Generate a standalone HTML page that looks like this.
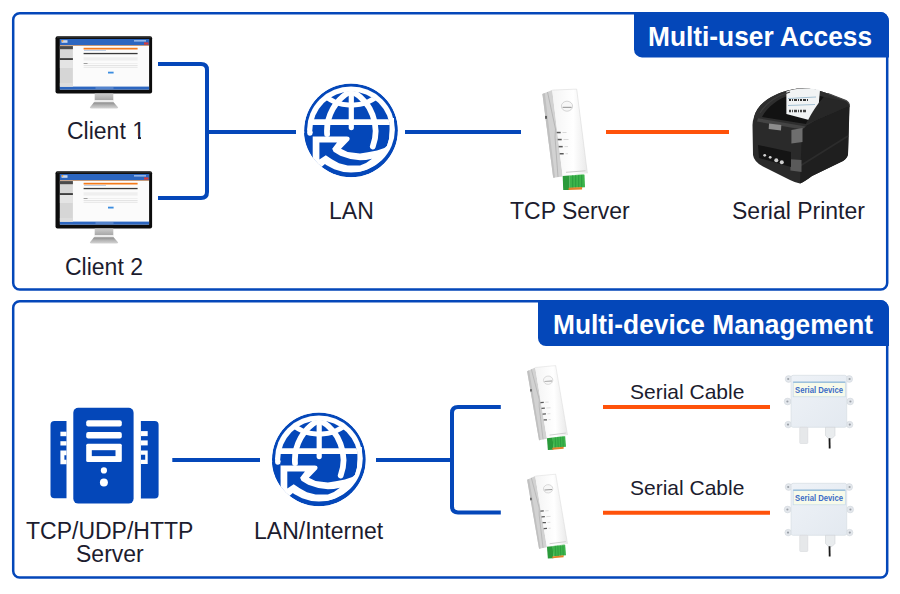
<!DOCTYPE html>
<html><head><meta charset="utf-8">
<style>
html,body{margin:0;padding:0;background:#fff;}
body{width:900px;height:594px;position:relative;overflow:hidden;font-family:"Liberation Sans",sans-serif;}
.t{position:absolute;white-space:nowrap;color:#1c1c2e;font-size:23px;line-height:1;}
.h{position:absolute;white-space:nowrap;color:#fff;font-weight:bold;font-size:27px;line-height:1;transform-origin:0 0;}
svg{position:absolute;left:0;top:0;}
</style></head><body>
<svg width="900" height="594" viewBox="0 0 900 594">
<defs>
  <clipPath id="gclip"><circle cx="351" cy="130.4" r="46.9"/></clipPath>
  <clipPath id="bclip"><circle cx="350.8" cy="130.4" r="39.5"/></clipPath>
  <linearGradient id="stand" x1="0" x2="0" y1="0" y2="1">
    <stop offset="0" stop-color="#cdcdcd"/><stop offset="1" stop-color="#a6a6a6"/>
  </linearGradient>
  <linearGradient id="base" x1="0" x2="0" y1="0" y2="1">
    <stop offset="0" stop-color="#8a8a8a"/><stop offset="0.5" stop-color="#b4b4b4"/><stop offset="1" stop-color="#d4d4d4"/>
  </linearGradient>

  <g id="globe" clip-path="url(#gclip)">
    <circle cx="351" cy="130.4" r="46.9" fill="#0447b9"/>
    <ellipse cx="351" cy="129.6" rx="43.9" ry="43" fill="#fff"/>
    <circle cx="351.2" cy="130.4" r="38.9" fill="#0447b9"/>
    <path d="M300,133 H313 V170 L330,180 H300 Z" fill="#0447b9"/>
    <g clip-path="url(#bclip)" stroke="#fff" fill="none">
      <path d="M351.3,80 V127.6" stroke-width="5.2" stroke-linecap="round"/>
      <path d="M300,122.1 H400" stroke-width="5.6"/>
      <path d="M372.8,146.5 A45,45 0 0 0 351.3,91 A45,45 0 0 0 327.1,134" stroke-width="5.8" stroke-linecap="round" stroke-linejoin="round"/>
      <circle cx="351.3" cy="62.2" r="43" stroke-width="5"/>
    </g>
    <circle cx="309.9" cy="133" r="2.65" fill="#fff"/>
    <path d="M312.7,136.4 L347,136.4 Q350.8,136.6 349.2,140.3 L341,148.8 L347.7,152.1 L360,153.5 L367.8,152.3 L377,150.5 L384.4,148.1 L387.2,145.8 L389,138.9 L389.8,125 L389.8,118 L394,118 L393.8,130 A43,43 0 0 1 360,171.7 L347.7,170.7 L337,168.3 L325.8,163.2 L322.1,166.6 L318,172 L300,165 L312.7,160 Z" fill="#fff"/>
    <path d="M319.4,142.4 L337,142.4 L332.2,148.8 L333.6,151.8 L340.3,155.8 L350.4,158.9 L360,160.2 L366,160 L372,158.8 L366,163 L360,165.6 L347.7,165.6 L339,163.2 L332.2,159.5 L325.8,155.2 L319.4,159.5 Z" fill="#0447b9"/>
  </g>

  <g id="monitor">
    <rect x="55.5" y="36.2" width="96.6" height="57.3" rx="2" fill="#0c0c0c"/>
    <rect x="57" y="37" width="94" height="1.2" fill="#2a2a2a"/>
    <rect x="59.9" y="39" width="89.2" height="50.6" fill="#fbfbfb"/>
    <rect x="59.9" y="39" width="89.2" height="6.1" fill="#2c66c0"/>
    <rect x="59.9" y="45.1" width="89.2" height="0.7" fill="#b87a4a"/>
    <rect x="61.5" y="40.2" width="6" height="2.6" fill="#c9d8ee"/>
    <circle cx="62.5" cy="40.8" r="0.9" fill="#f39a2a"/>
    <rect x="59.9" y="86.6" width="89.2" height="3" fill="#2c66c0"/>
    <rect x="95.5" y="87.6" width="18" height="0.8" fill="#8fb0e0"/>
    <rect x="59.9" y="45.8" width="13" height="40.8" fill="#d6d6d6"/>
    <rect x="59.9" y="46.1" width="13" height="3.1" fill="#4a4a4a"/>
    <rect x="59.9" y="58.2" width="13" height="1.7" fill="#2e2e2e"/>
    <rect x="59.9" y="60" width="13" height="8" fill="#e4e4e4"/>
    <rect x="59.9" y="83" width="13" height="3.6" fill="#ddd"/>
    <rect x="83.6" y="47.8" width="54" height="1.7" fill="#f47a1a"/>
    <rect x="84" y="50.2" width="22" height="0.6" fill="#9ab4d8"/>
    <rect x="83.6" y="52.9" width="54" height="1.3" fill="#3a3a3a"/>
    <rect x="83.6" y="57.2" width="54" height="3.4" fill="#efefef"/>
    <rect x="83.6" y="63" width="4" height="0.7" fill="#777"/>
    <rect x="88" y="63.1" width="49.6" height="0.4" fill="#ddd"/>
    <rect x="83.6" y="65" width="54" height="0.6" fill="#d5d5d5"/>
    <rect x="83.6" y="66.8" width="54" height="1.2" fill="#eaeaea"/>
    <rect x="108" y="71.7" width="5.6" height="1.8" fill="#3b8de0"/>
    <rect x="134" y="40.2" width="12" height="1.3" fill="#a9c6ef"/>
    <rect x="144" y="42.4" width="4.5" height="2.2" fill="#d83a3a"/>
    <path d="M94.7,93.5 H113.3 V100.2 H94.7 Z" fill="url(#stand)"/>
    <rect x="94.5" y="100" width="19" height="2.3" fill="#ececec"/>
    <path d="M94,102.2 H113.6 L118.2,107.4 Q118,108.4 116.5,108.4 H91.5 Q90,108.4 89.8,107.4 Z" fill="url(#base)"/>
  </g>

  <linearGradient id="devFront" x1="0" x2="1" y1="0" y2="0">
    <stop offset="0" stop-color="#f4f4f4"/><stop offset="0.6" stop-color="#ffffff"/><stop offset="1" stop-color="#e9e9e9"/>
  </linearGradient>
  <g id="dev">
    <path d="M0.4,5.1 L10.2,1.1 L20.7,87.5 L11.2,88.7 Z" fill="#d2d2d2"/>
    <path d="M0.4,5.1 L2.8,4.1 L13,88.5 L11.2,88.7 Z" fill="#c0c0c0"/>
    <path d="M5.5,3 L13.5,40 L13,48 L16,88" fill="none" stroke="#a3a3a3" stroke-width="0.6"/>
    <rect x="3.2" y="26.9" width="1.6" height="2.9" fill="#444"/>
    <path d="M10.2,1.1 L34.7,0.1 L45.4,84.3 L20.7,87.5 Z" fill="url(#devFront)"/>
    <path d="M10.2,1.1 L34.7,0.1 L45.4,84.3" fill="none" stroke="#d5d5d5" stroke-width="0.5"/>
    <ellipse cx="25" cy="17.2" rx="5.6" ry="5" fill="#f7f7f7" stroke="#c4c4c4" stroke-width="0.7"/>
    <rect x="20.6" y="17.8" width="9" height="1.1" fill="#9a9a9a"/>
    <rect x="14.7" y="42.8" width="4" height="1.5" fill="#5a5a5a"/>
    <rect x="15.7" y="49.8" width="4" height="1.5" fill="#5a5a5a"/>
    <rect x="16.7" y="56.9" width="4" height="1.5" fill="#5a5a5a"/>
    <rect x="17.7" y="64" width="4" height="1.5" fill="#5a5a5a"/>
    <path d="M20.5,43.5 h4 M21.5,50.5 h5 M22.5,57.6 h3.5 M23.5,64.7 h2.5" stroke="#cfcfcf" stroke-width="0.8"/>
    <path d="M24,83.3 L43.5,81.8" stroke="#c9c9c9" stroke-width="1"/>
    <path d="M20.7,86.9 L41.5,85.2 L42.5,85.7 L27.7,86.4 Z" fill="#56c462"/>
    <path d="M20.7,86.9 L27.7,86.4 L27.7,101 L21.2,101 Z" fill="#2a9a3a"/>
    <path d="M27.7,86.4 L42.5,85.7 L43,98.2 L27.7,99 Z" fill="#3cb44b"/>
    <path d="M30.7,86.3 V98.8 M33.7,86.1 V98.7 M36.7,86 V98.5 M39.7,85.9 V98.4" stroke="#23903a" stroke-width="0.7"/>
    <path d="M26.6,98.7 L40.1,98.1 L40.1,100.5 L26.6,101 Z" fill="#e0822a"/>
  </g>

  <g id="sdev">
    <linearGradient id="sdg" x1="0" x2="1" y1="0" y2="1"><stop offset="0" stop-color="#eef2f7"/><stop offset="1" stop-color="#e3e9f0"/></linearGradient>
    <g fill="#e3e7ec" stroke="#cfd4da" stroke-width="0.5">
      <circle cx="788.6" cy="379" r="3.4"/><circle cx="787.6" cy="401.5" r="3.4"/><circle cx="788.2" cy="424.6" r="3.3"/>
      <circle cx="849.2" cy="379" r="3.4"/><circle cx="850.2" cy="401.5" r="3.4"/><circle cx="849.6" cy="424.6" r="3.3"/>
    </g>
    <g fill="#9aa0a8">
      <circle cx="788.2" cy="379" r="1.1"/><circle cx="787.4" cy="401.5" r="1.1"/><circle cx="788" cy="424.6" r="1.1"/>
      <circle cx="849.6" cy="379" r="1.1"/><circle cx="850.4" cy="401.5" r="1.1"/><circle cx="849.8" cy="424.6" r="1.1"/>
    </g>
    <rect x="791.1" y="375.3" width="55.6" height="52" rx="2" fill="url(#sdg)" stroke="#d6dce3" stroke-width="0.7"/>
    <rect x="793.2" y="382" width="52.1" height="14.8" fill="#f7faea" stroke="#c5d9ea" stroke-width="0.7"/>
    <rect x="793.2" y="381.6" width="52.1" height="1.2" fill="#8cb6d8"/>
    <text x="795.1" y="392.9" font-family="Liberation Sans" font-size="9" font-weight="bold" fill="#3b6cc6" textLength="48" lengthAdjust="spacingAndGlyphs">Serial Device</text>
    <rect x="799.7" y="427.3" width="8.1" height="16.2" rx="0.8" fill="#e6e8ea" stroke="#d2d5d8" stroke-width="0.5"/>
    <path d="M825.5,427.3 H835 V435.5 L832,438.6 H828.5 L825.5,435.5 Z" fill="#e9ecee" stroke="#c9cdd1" stroke-width="0.5"/>
    <path d="M828.6,438.2 L830.4,438.2 L830.6,448.6 L828.8,448.6 Z" fill="#1a1a1a"/>
  </g>
</defs>

  <!-- panels -->
  <rect x="13.2" y="13.2" width="874" height="276.3" rx="6.5" fill="none" stroke="#0447b9" stroke-width="2.5"/>
  <rect x="13.2" y="301.2" width="874" height="276.3" rx="6.5" fill="none" stroke="#0447b9" stroke-width="2.5"/>
  <!-- tabs -->
  <path d="M634 12.1 H880 A9 9 0 0 1 889 21.1 V57.4 H642 A8 8 0 0 1 634 49.4 Z" fill="#0447b9"/>
  <path d="M538 300.1 H880 A9 9 0 0 1 889 309.1 V346 H546 A8 8 0 0 1 538 338 Z" fill="#0447b9"/>

  <!-- top connectors -->
  <path d="M158 64 H201 Q207 64 207 70 V192 Q207 198 201 198 H158" fill="none" stroke="#0447b9" stroke-width="4"/>
  <path d="M207 131.9 H296" fill="none" stroke="#0447b9" stroke-width="4"/>
  <path d="M405 131.9 H521" fill="none" stroke="#0447b9" stroke-width="4"/>
  <path d="M606 132 H729" fill="none" stroke="#ff520a" stroke-width="4"/>

  <!-- bottom connectors -->
  <path d="M172.3 460 H260" fill="none" stroke="#0447b9" stroke-width="4"/>
  <path d="M376 460 H452" fill="none" stroke="#0447b9" stroke-width="4"/>
  <path d="M500.8 407 H458 Q452 407 452 413 V506.4 Q452 512.4 458 512.4 H500.8" fill="none" stroke="#0447b9" stroke-width="4"/>
  <path d="M603 407 H770" fill="none" stroke="#ff520a" stroke-width="4"/>
  <path d="M603 512.8 H770" fill="none" stroke="#ff520a" stroke-width="4"/>

  <use href="#globe"/>
  <use href="#globe" transform="translate(-32.1,329)"/>
  <use href="#monitor"/>
  <use href="#monitor" transform="translate(0,135)"/>
  <use href="#dev" transform="translate(542,89)"/>
  <use href="#dev" transform="matrix(0.8372,-0.0425,0.0346,0.8299,526.62,367)"/>
  <use href="#dev" transform="matrix(0.8372,-0.0425,0.0346,0.8299,526.62,475.6)"/>
  <use href="#sdev"/>
  <use href="#sdev" transform="translate(0,108)"/>

  <!-- server icon -->
  <g fill="#0447b9">
    <rect x="73.3" y="407.8" width="60.3" height="95.8" rx="5"/>
    <path d="M54.5,421 H66.5 V498.3 H54.5 Q50.5,498.3 50.5,494.3 V425 Q50.5,421 54.5,421 Z"/>
    <path d="M140.9,421 H154.6 Q158.6,421 158.6,425 V494.4 Q158.6,498.4 154.6,498.4 H140.9 Z"/>
  </g>
  <g fill="#fff">
    <rect x="86.2" y="420.2" width="35.6" height="6.3" rx="2"/>
    <rect x="86.2" y="432" width="35.6" height="6.4" rx="2"/>
    <rect x="86.2" y="443.8" width="35.6" height="18.2" rx="1.5"/><rect x="91.8" y="450.2" width="23.7" height="5.9" fill="#0447b9"/>
    <circle cx="103.9" cy="470.4" r="3.1"/>
    <circle cx="103.9" cy="482.4" r="4"/>
    <rect x="60.4" y="431.7" width="6.1" height="4.5"/>
    <rect x="60.4" y="441.2" width="6.1" height="4.3"/>
    <path d="M60.4,450.6 H66.5 V464.2 H60.4 Z M64.4,455.2 V459.7 H66.5 V455.2 Z" fill-rule="evenodd"/>
    <rect x="140.9" y="431.1" width="6.8" height="5"/>
    <rect x="140.9" y="440.4" width="6.8" height="5"/>
    <path d="M140.9,450.5 H147.7 V463.9 H140.9 Z M140.9,454.7 V459.7 H145.2 V454.7 Z" fill-rule="evenodd"/>
  </g>

  <!-- printer -->
  <g id="printer">
    <path d="M754,117 C757,104 772,94 790,90 C803,87 816,89 828,93.5 L846,100.5 Q850,103 849.5,108 L848,154 Q847.5,158 843,161 L812,176 Q804,182 800,183.5 Q796,183 790,180 L763,166.5 Q754,162 753,155 L752.5,125 Q752.8,120 754,117 Z" fill="#2a2a2a"/>
    <path d="M802,128 L816,120 L849.3,105.5 L848,154 Q847.5,158 843,161 L812,176 Q804,182 800,183.5 Z" fill="#1f1f1f"/>
    <path d="M800,166 L848,136" stroke="#2c2c2c" stroke-width="1.5"/>
    <path d="M754,117 C757,104 772,94 790,90 C803,87 816,89 828,93.5 L846,100.5 Q850,103 849.3,105.5 L816,120 L802,128 L758,118.5 Z" fill="#2e2e2e"/>
    <path d="M762,117 C768,106 778,99 790,95 L812,94 L824,97 C818,104 812,112 806,124 Z" fill="#121212"/>
    <path d="M758,118.3 L806,126.4 L802,129.5 L757,121.5 Z" fill="#444"/>
    <path d="M786.4,91.6 C794,88.5 806,87.5 820,90 L818,112 L809,120 L786.4,114 Z" fill="#f1f3f4"/>
    <path d="M788,98.5 L816,97 M788,105.5 L815,104.5" stroke="#8fb3c9" stroke-width="0.8"/>
    <path d="M789,100 h2 M792,100 h1 M794,100 h3 M798,100 h1 M800,100 h2 M803,100 h3 M807,100 h1" stroke="#333" stroke-width="2.2"/>
    <path d="M789,111 h2 M792,111 h1 M794,111 h3 M798,111 h1 M800,111 h2 M803,111 h3" stroke="#444" stroke-width="2.4"/>
    <path d="M828,93.5 L846,100.5 Q849.5,102.5 849.4,107" fill="none" stroke="#4a4a4a" stroke-width="1.3"/>
    <path d="M806,124 C812,112 818,103 824,97 L846,101.5 Q849,103.5 849,106 L816,120 Z" fill="#272727"/>
    <path d="M760,113 C766,103 776,96 790,92" fill="none" stroke="#3c3c3c" stroke-width="1.2"/>
    <path d="M769,123.4 L781.3,125 L781,130.5 L768.7,129 Z" fill="#8c8c8c"/>
    <path d="M791.4,130 L802.5,128 L802.5,142 L791.4,143.5 Z" fill="#6e6e6e"/>
    <path d="M790.4,159.3 L801.5,160 L801.5,172 L790.4,170.4 Z" fill="#5a5a5a"/>
    <path d="M758,145 L791,152 L791,167 L759,158 Z" fill="#141414"/>
    <circle cx="764.7" cy="155.3" r="1.4" fill="#d0d0d0"/>
    <circle cx="770.2" cy="157.3" r="1.4" fill="#d0d0d0"/>
    <circle cx="776.3" cy="160.3" r="2" fill="#cfcfcf"/>
    <circle cx="781.8" cy="162.3" r="2" fill="#cfcfcf"/>
  </g>
</svg>

<div class="h" id="h1" style="left:648.4px;top:24px;transform:scaleX(0.974);">Multi-user Access</div>
<div class="h" id="h2" style="left:552.8px;top:312px;transform:scaleX(0.974);">Multi-device Management</div>

<div class="t" style="left:67px;top:120px;">Client 1</div>
<div style="position:absolute;left:132.5px;top:136px;width:5.2px;height:4px;background:#fff;"></div>
<div style="position:absolute;left:140.6px;top:136px;width:5px;height:4px;background:#fff;"></div>
<div class="t" style="left:65px;top:256px;">Client 2</div>
<div class="t" style="left:329px;top:200px;">LAN</div>
<div class="t" style="left:510px;top:200px;">TCP Server</div>
<div class="t" style="left:732px;top:200px;">Serial Printer</div>
<div class="t" style="left:26px;top:520px;">TCP/UDP/HTTP</div>
<div class="t" style="left:76px;top:543px;">Server</div>
<div class="t" style="left:254px;top:520px;">LAN/Internet</div>
<div class="t" style="left:630px;top:381px;font-size:21px;">Serial Cable</div>
<div class="t" style="left:630px;top:477px;font-size:21px;">Serial Cable</div>
</body></html>
